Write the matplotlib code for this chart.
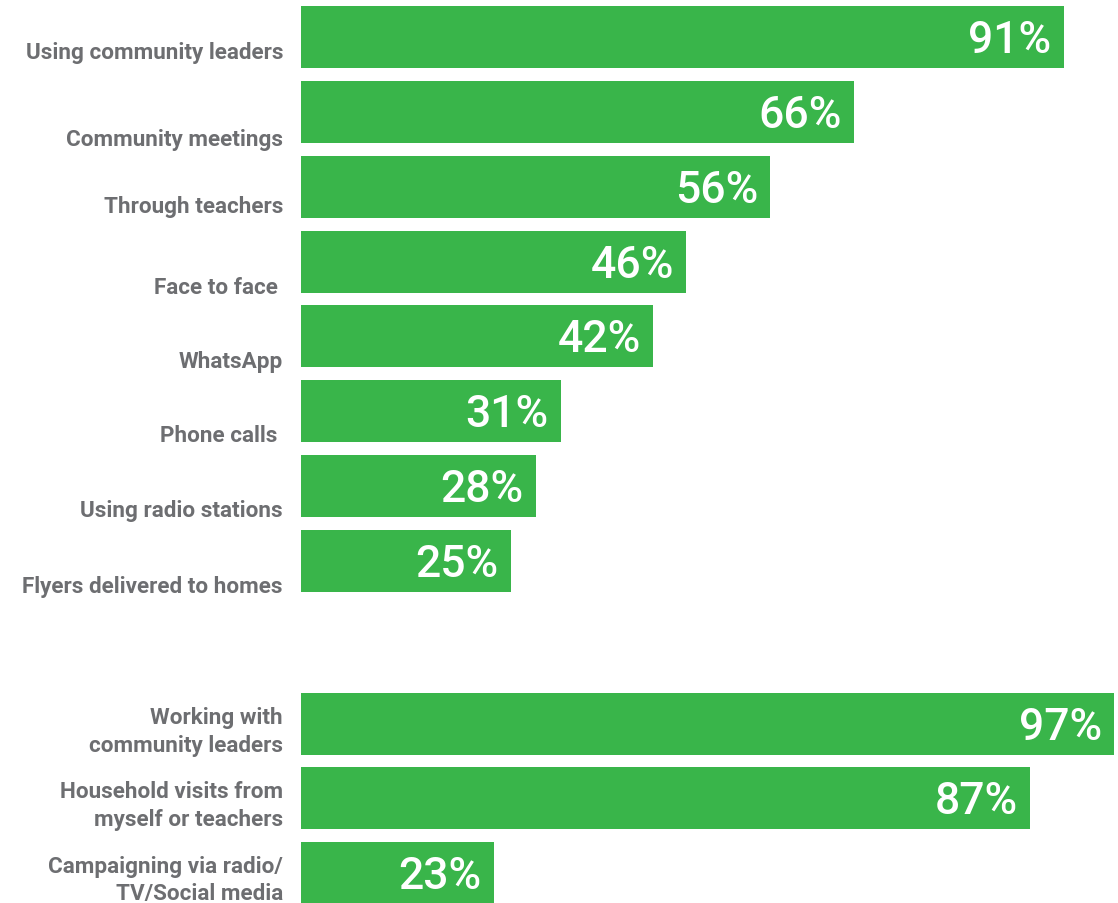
import matplotlib
matplotlib.use("Agg")
import matplotlib.pyplot as plt
from matplotlib import font_manager as fm

# ---- data ----
group1_labels = ["Using community leaders", "Community meetings", "Through teachers",
                 "Face to face ", "WhatsApp", "Phone calls ", "Using radio stations",
                 "Flyers delivered to homes"]
group1_values = [91, 66, 56, 46, 42, 31, 28, 25]

group2_labels = ["Working with\ncommunity leaders", "Household visits from\nmyself or teachers",
                 "Campaigning via radio/\nTV/Social media"]
group2_values = [97, 87, 23]

# ---- layout ----
GREEN = "#39B54A"
GRAY = "#6D6E71"
W, H = 1118, 904
PX_PER_UNIT = 74.86

pos1 = list(range(len(group1_values)))
pos2 = [9.177, 10.166, 11.161]
# baseline offsets (px, downward from bar centre) for single-line labels
label1_dy = [21, 33, 25, 31, 31, 30, 30, 31]


def pick_font(cands, want_weight):
    names = {}
    for f in fm.fontManager.ttflist:
        names.setdefault(f.name, []).append(f)
    wmap = {"normal": 400, "regular": 400, "medium": 500, "semibold": 600,
            "bold": 700, "heavy": 800, "black": 900, "light": 300}
    for c in cands:
        if c in names:
            fl = [f for f in names[c] if f.style == "normal"] or names[c]

            def w(f):
                return f.weight if isinstance(f.weight, int) else wmap.get(str(f.weight), 400)
            use = min(fl, key=lambda f: abs(w(f) - want_weight))
            return fm.FontProperties(fname=use.fname)
    return fm.FontProperties(family="DejaVu Sans", weight="bold")


fp_label = pick_font(["Roboto"], 600)
fp_val = pick_font(["Roboto"], 500)

fig = plt.figure(figsize=(W / 100, H / 100), dpi=100)
ax = fig.add_axes([301 / W, 0, 1 - 301 / W, 1])
ax.set_xlim(0, (W - 301) / 8.38)
ax.set_ylim(H / PX_PER_UNIT - 38 / PX_PER_UNIT, -38 / PX_PER_UNIT)
ax.axis("off")

all_pos = pos1 + pos2
all_vals = group1_values + group2_values
ax.barh(all_pos, all_vals, height=62 / PX_PER_UNIT, color=GREEN, linewidth=0)

trans = ax.get_yaxis_transform()
lx = -18 / (W - 301)

for p, lab, dy in zip(pos1, group1_labels, label1_dy):
    ax.text(lx, p + dy / PX_PER_UNIT, lab, transform=trans, ha="right", va="baseline",
            color=GRAY, fontproperties=fp_label, fontsize=16.2)

for p, lab in zip(pos2, group2_labels):
    ax.text(lx, p + 7 / PX_PER_UNIT, lab, transform=trans, ha="right", va="center",
            multialignment="right", linespacing=1.3,
            color=GRAY, fontproperties=fp_label, fontsize=16.2)

for p, v in zip(all_pos, all_vals):
    ax.annotate(f"{v}%", xy=(v, p), xytext=(-12, -3), textcoords="offset pixels",
                ha="right", va="center", color="white", fontproperties=fp_val, fontsize=32)

fig.savefig("out.png", dpi=100)
